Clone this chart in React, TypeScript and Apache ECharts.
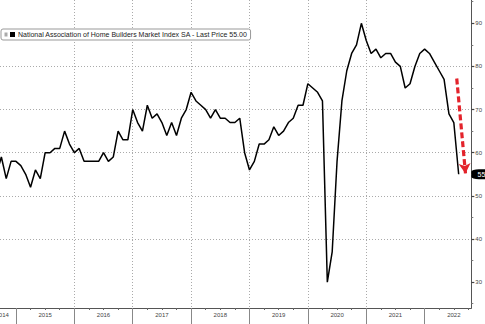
import React, { useEffect, useRef } from "react";
import * as echarts from "echarts";

// NAHB Housing Market Index, monthly (month-end), starting Aug 2014
const firstMonth = 8; // months since start of 2014 (Aug 2014 month-end)
const values2014 = [55, 59, 54, 58, 58];
const values2015 = [57, 55, 52, 56, 54, 60, 60, 61, 61, 65, 62, 60];
const values2016 = [61, 58, 58, 58, 58, 60, 58, 59, 65, 63, 63, 70];
const values2017 = [67, 65, 71, 68, 69, 67, 64, 67, 64, 68, 70, 74];
const values2018 = [72, 71, 70, 68, 70, 68, 68, 67, 67, 68, 60, 56];
const values2019 = [58, 62, 62, 63, 66, 64, 65, 67, 68, 71, 71, 76];
const values2020 = [75, 74, 72, 30, 37, 58, 72, 79, 83, 85, 90, 86];
const values2021 = [83, 84, 82, 83, 83, 81, 80, 75, 76, 80, 83, 84];
const values2022 = [83, 81, 79, 77, 69, 67, 55];

const seriesName = "National Association of Home Builders Market Index SA - Last Price 55.00";
const lastPriceLabel = "55.00";
const yearLabels = ["2014", "2015", "2016", "2017", "2018", "2019", "2020", "2021", "2022"];
const yLabelValues = [30, 40, 50, 60, 70, 80, 90];
const yMinorTickValues = [25, 35, 45, 55, 65, 75, 85, 95];

// x axis: months since start of 2014
const xMin = 8.72;
const xMax = 105.6;
const yMin = 24;
const yMax = 95.4;
const arrowStart = [102.6, 77.2];
const arrowEnd = [104.4, 55.2];

export default function App() {
  const ref = useRef<HTMLDivElement>(null);
  useEffect(() => {
    if (!ref.current) return;
    const chart = echarts.init(ref.current, undefined, { renderer: "svg" });
    const all = [
      ...values2014, ...values2015, ...values2016, ...values2017, ...values2018,
      ...values2019, ...values2020, ...values2021, ...values2022,
    ];
    const data = all.map((v, i) => [firstMonth + i, v]);
    const last = data[data.length - 1];
    const mids = yearLabels.slice(1).map((_, i) => (i + 1) * 12 + 6);
    const bounds = yearLabels.slice(1).map((_, i) => (i + 1) * 12);
    const quarters: number[] = [];
    for (let q = 12; q < xMax; q += 3) if (q % 12 !== 0) quarters.push(q);
    const font = "Liberation Sans";
    const dotted = { type: [1, 2], color: "#aaa", width: 1 };
    chart.setOption({
      animation: false,
      backgroundColor: "#fff",
      textStyle: { fontFamily: font },
      grid: { left: 0, right: 13.3, top: 0, bottom: 16, containLabel: false },
      legend: {
        data: [seriesName],
        left: 1,
        top: 29,
        icon: "rect",
        itemWidth: 5,
        itemHeight: 5,
        padding: [2, 3, 2, 9],
        backgroundColor: "#fff",
        borderColor: "#999",
        borderWidth: 1,
        borderRadius: 2,
        textStyle: { fontSize: 7, color: "#222", fontFamily: font, padding: [0, 0, 0, -2] },
        selectedMode: false,
      },
      xAxis: [
        {
          type: "value",
          min: xMin,
          max: xMax,
          position: "bottom",
          axisLine: { show: true, lineStyle: { color: "#555", width: 1 } },
          axisTick: { show: true, customValues: bounds, length: 16, lineStyle: { color: "#888" } },
          axisLabel: {
            show: true,
            customValues: mids,
            formatter: (v: number) => yearLabels[Math.round((v - 6) / 12)] ?? "",
            fontSize: 6,
            color: "#444",
            margin: 4,
            fontFamily: font,
          },
          splitLine: { show: true, showMinLine: false, showMaxLine: false, lineStyle: dotted },
        },
        {
          type: "value",
          min: xMin,
          max: xMax,
          position: "bottom",
          axisLine: { show: false },
          axisTick: { show: true, customValues: quarters, length: 2, lineStyle: { color: "#666" } },
          axisLabel: { show: false },
          splitLine: { show: false },
        },
      ],
      yAxis: [
        {
          type: "value",
          position: "right",
          min: yMin,
          max: yMax,
          axisLine: { show: true, lineStyle: { color: "#555", width: 1 } },
          axisTick: { show: true, customValues: yLabelValues, length: 3, lineStyle: { color: "#444", width: 1.2 } },
          axisLabel: {
            show: true,
            customValues: yLabelValues,
            fontSize: 6,
            color: "#444",
            margin: 4,
            fontFamily: font,
          },
          splitLine: { show: true, showMinLine: false, showMaxLine: false, lineStyle: dotted },
        },
        {
          type: "value",
          position: "right",
          min: yMin,
          max: yMax,
          axisLine: { show: false },
          axisTick: { show: true, customValues: yMinorTickValues, length: 2, lineStyle: { color: "#777" } },
          axisLabel: { show: false },
          splitLine: { show: false },
        },
      ],
      graphic: [
        { type: "rect", x: 4.5, y: 32.5, shape: { width: 3, height: 4 }, style: { fill: "#aaa" }, z: 100 },
        {
          type: "text",
          x: -4.5,
          y: 312,
          style: { text: yearLabels[0], fontSize: 6, fill: "#444", fontFamily: font },
          z: 100,
        },
      ],
      series: [
        {
          name: seriesName,
          type: "line",
          data,
          showSymbol: false,
          symbol: "none",
          lineStyle: { color: "#000", width: 1.5 },
          itemStyle: { color: "#000" },
          clip: true,
          markLine: {
            silent: true,
            symbol: ["none", "arrow"],
            symbolSize: [9, 10],
            label: { show: false },
            lineStyle: { color: "#e3232b", width: 3.2, type: [6, 3] },
            data: [[{ coord: arrowStart }, { coord: arrowEnd }]],
          },
          markPoint: {
            silent: true,
            data: [
              {
                coord: [xMax, last[1]],
                symbol: "roundRect",
                symbolSize: [30, 10],
                symbolOffset: [15, 0],
                itemStyle: { color: "#000" },
                label: {
                  show: true,
                  position: "inside",
                  formatter: lastPriceLabel,
                  color: "#fff",
                  fontSize: 7,
                  fontFamily: font,
                },
              },
            ],
          },
        },
      ],
    });
    return () => chart.dispose();
  }, []);
  return (
    <div
      ref={ref}
      style={{ position: "fixed", left: 0, top: 0, width: 485, height: 324 }}
    />
  );
}
